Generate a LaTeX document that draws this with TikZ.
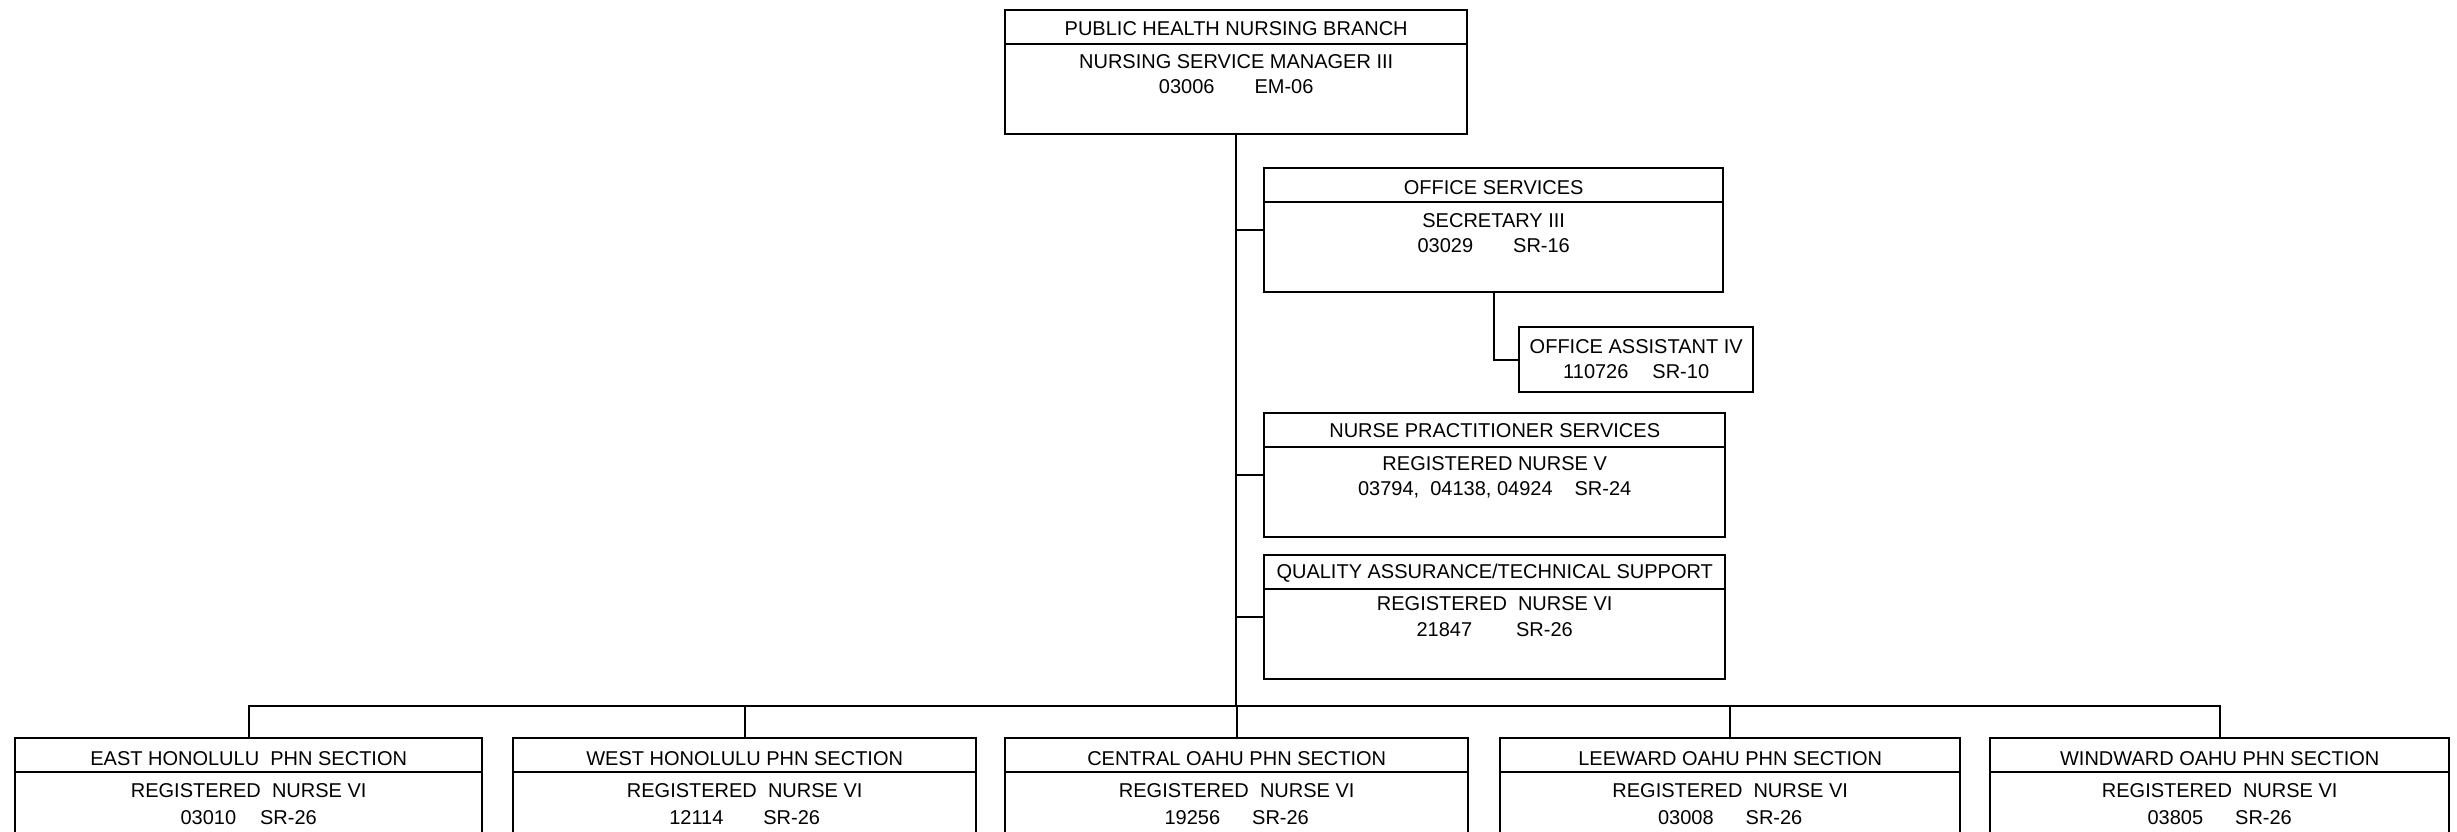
\documentclass[tikz,border=0pt]{standalone}
\usepackage{fontspec}
\setmainfont{Liberation Sans}
\begin{document}
\begin{tikzpicture}[x=1pt, y=-1pt,
    box/.style={draw, line width=2.4pt, inner sep=0pt, minimum height=124pt, anchor=north west},
    rule/.style={line width=1.5pt},
    link/.style={line width=2.4pt},
    txt/.style={inner sep=0pt, anchor=base, font=\fontsize{20}{24}\selectfont}]
    \clip (0,0) rectangle (2457,832);

    \node[box, minimum width=462pt] (branch) at (1004,9) {};
    \node[box, minimum width=459pt] (offsvc) at (1263,167) {};
    \node[box, minimum width=234pt, minimum height=65pt] (offasst) at (1518,326) {};
    \node[box, minimum width=461pt] (nps) at (1263,412) {};
    \node[box, minimum width=461pt] (qats) at (1263,554) {};

    \node[box, minimum width=467pt] (east) at (14,737) {};
    \node[box, minimum width=463pt] (west) at (512,737) {};
    \node[box, minimum width=463pt] (central) at (1004,737) {};
    \node[box, minimum width=460pt] (leeward) at (1499,737) {};
    \node[box, minimum width=459pt] (windward) at (1989,737) {};

    \foreach \b in {branch,offsvc,nps,qats,east,west,central,leeward,windward}
        \draw[rule] ([yshift=-35pt]\b.north west) -- ([yshift=-35pt]\b.north east);

    \node[txt] (branchA) at ([yshift=-27pt]branch.north) {PUBLIC HEALTH NURSING BRANCH};
    \node[txt] (branchB) at ([yshift=-60pt]branch.north) {NURSING SERVICE MANAGER III};
    \node[txt] (branchC) at ([yshift=-85pt]branch.north) {03006\hspace{2em}EM-06};

    \node[txt] (offsvcA) at ([yshift=-27pt]offsvc.north) {OFFICE SERVICES};
    \node[txt] (offsvcB) at ([yshift=-60pt]offsvc.north) {SECRETARY III};
    \node[txt] (offsvcC) at ([yshift=-85pt]offsvc.north) {03029\hspace{2em}SR-16};

    \node[txt] (offasstA) at ([yshift=-27pt]offasst.north) {OFFICE ASSISTANT IV};
    \node[txt] (offasstB) at ([yshift=-52pt]offasst.north) {110726\hspace{1.2em}SR-10};

    \node[txt] (npsA) at ([yshift=-25pt]nps.north) {NURSE PRACTITIONER SERVICES};
    \node[txt] (npsB) at ([yshift=-58pt]nps.north) {REGISTERED NURSE V};
    \node[txt] (npsC) at ([yshift=-83pt]nps.north) {03794,\ \ 04138, 04924\hspace{1.1em}SR-24};

    \node[txt] (qatsA) at ([yshift=-24pt]qats.north) {QUALITY ASSURANCE/TECHNICAL SUPPORT};
    \node[txt] (qatsB) at ([yshift=-56pt]qats.north) {REGISTERED\ \ NURSE VI};
    \node[txt] (qatsC) at ([yshift=-82pt]qats.north) {21847\hspace{2.2em}SR-26};

    \node[txt] (eastA) at ([yshift=-28pt]east.north) {EAST HONOLULU\ \ PHN SECTION};
    \node[txt] (eastB) at ([yshift=-60pt]east.north) {REGISTERED\ \ NURSE VI};
    \node[txt] (eastC) at ([yshift=-87pt]east.north) {03010\hspace{1.2em}SR-26};

    \node[txt] (westA) at ([yshift=-28pt]west.north) {WEST HONOLULU PHN SECTION};
    \node[txt] (westB) at ([yshift=-60pt]west.north) {REGISTERED\ \ NURSE VI};
    \node[txt] (westC) at ([yshift=-87pt]west.north) {12114\hspace{2em}SR-26};

    \node[txt] (centralA) at ([yshift=-28pt]central.north) {CENTRAL OAHU PHN SECTION};
    \node[txt] (centralB) at ([yshift=-60pt]central.north) {REGISTERED\ \ NURSE VI};
    \node[txt] (centralC) at ([yshift=-87pt]central.north) {19256\hspace{1.6em}SR-26};

    \node[txt] (leewardA) at ([yshift=-28pt]leeward.north) {LEEWARD OAHU PHN SECTION};
    \node[txt] (leewardB) at ([yshift=-60pt]leeward.north) {REGISTERED\ \ NURSE VI};
    \node[txt] (leewardC) at ([yshift=-87pt]leeward.north) {03008\hspace{1.6em}SR-26};

    \node[txt] (windwardA) at ([yshift=-28pt]windward.north) {WINDWARD OAHU PHN SECTION};
    \node[txt] (windwardB) at ([yshift=-60pt]windward.north) {REGISTERED\ \ NURSE VI};
    \node[txt] (windwardC) at ([yshift=-87pt]windward.north) {03805\hspace{1.6em}SR-26};

    \coordinate (bar) at (0,706);
    \draw[link] (branch.south) -- (branch.south |- bar);
    \foreach \s in {offsvc,nps,qats}
        \draw[link] (\s.west) -- (\s.west -| branch.south);
    \draw[link] (offsvc.south) |- (offasst.west);
    \draw[link] (east.north) |- (bar -| windward.north) -- (windward.north);
    \foreach \s in {west,central,leeward}
        \draw[link] (\s.north) -- (\s.north |- bar);
\end{tikzpicture}
\end{document}
